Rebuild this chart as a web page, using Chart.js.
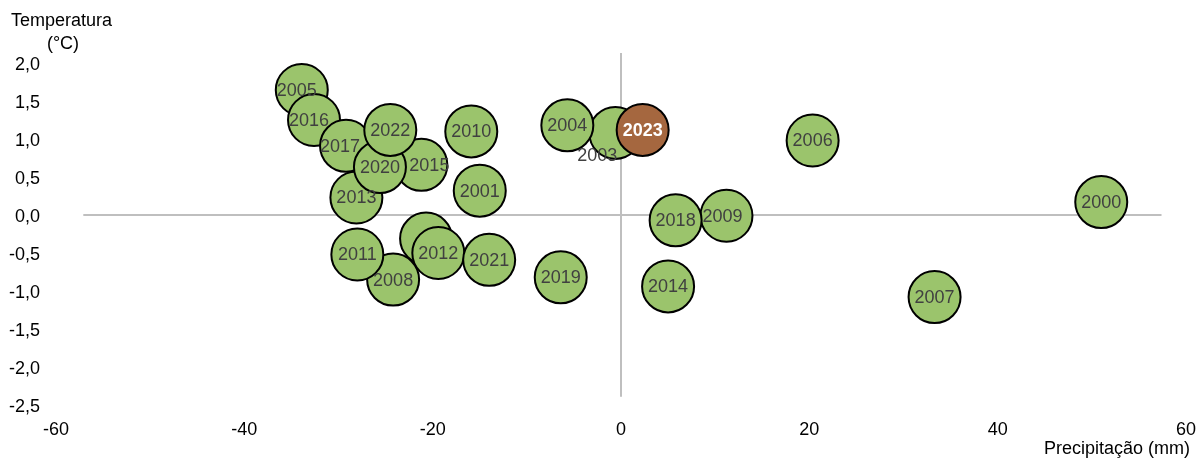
<!DOCTYPE html>
<html>
<head>
<meta charset="utf-8">
<script src="https://cdn.jsdelivr.net/npm/chart.js@4/dist/chart.umd.min.js"></script>
<style>
  html,body{margin:0;padding:0;background:#fff;}
  #wrap{width:1198px;height:459px;}
</style>
</head>
<body>
<div id="wrap"><canvas id="bubbles" width="1198" height="459"></canvas></div>
<script>
// years 2000-2022 (green), 2023 highlighted separately
const years=[2000,2001,2002,2003,2004,2005,2006,2007,2008,2009,2010,2011,2012,2013,2014,2015,2016,2017,2018,2019,2020,2021,2022];
const precip=[51.0,-15.0,-20.7,-0.6,-5.7,-33.9,20.35,33.3,-24.2,11.2,-15.9,-28.0,-19.4,-28.1,5.0,-21.2,-32.6,-29.2,5.8,-6.4,-25.6,-14.0,-24.5];
const temp=[0.17,0.32,-0.31,1.08,1.18,1.645,0.98,-1.08,-0.85,-0.01,1.10,-0.52,-0.50,0.23,-0.94,0.66,1.25,0.91,-0.07,-0.82,0.63,-0.59,1.12];
const curYear=[2023];
const curPrecip=[2.3];
const curTemp=[1.12];
const xTicks=[-60,-40,-20,0,20,40,60];
const yTicks=[-2.5,-2.0,-1.5,-1.0,-0.5,0.0,0.5,1.0,1.5,2.0];

// labels that were moved by hand in the original (px offsets), 2002's label is hidden
const nudge={2003:[-18,22],2015:[8,0],2005:[-5,0],2016:[-5,0],2017:[-6,0],2009:[-4,0]};
const hidden=[2002];

const FONT="'Liberation Sans', Arial, sans-serif";

const pts=(xs,ys)=>xs.map((x,i)=>({x:x,y:ys[i]}));

const zeroLines={
  id:'zeroLines',
  beforeDatasetsDraw(chart){
    const {ctx,scales:{x,y}}=chart;
    ctx.save();
    ctx.strokeStyle='#bfbfbf';
    ctx.lineWidth=2;
    ctx.beginPath();
    ctx.moveTo(x.getPixelForValue(-57.1),y.getPixelForValue(0));
    ctx.lineTo(x.getPixelForValue(57.4),y.getPixelForValue(0));
    ctx.moveTo(x.getPixelForValue(0),y.getPixelForValue(2.13));
    ctx.lineTo(x.getPixelForValue(0),y.getPixelForValue(-2.39));
    ctx.stroke();
    ctx.restore();
  }
};

const pointLabels={
  id:'pointLabels',
  afterDatasetDraw(chart,args){
    const ds=chart.data.datasets[args.index];
    const meta=args.meta;
    const ctx=chart.ctx;
    ctx.save();
    ctx.textAlign='center';
    ctx.textBaseline='middle';
    ctx.font=(ds.labelBold?'bold ':'')+'18px '+FONT;
    ctx.fillStyle=ds.labelColor;
    meta.data.forEach((el,i)=>{
      const yr=ds.years[i];
      if(hidden.includes(yr)) return;
      const d=nudge[yr]||[0,0];
      ctx.fillText(String(yr),el.x+d[0],el.y+d[1]+1);
    });
    ctx.restore();
  }
};

const axisTitles={
  id:'axisTitles',
  afterDraw(chart){
    const ctx=chart.ctx;
    ctx.save();
    ctx.fillStyle='#000';
    ctx.font='18px '+FONT;
    ctx.textBaseline='middle';
    ctx.textAlign='left';
    ctx.fillText('Temperatura',11,21);
    ctx.textAlign='center';
    ctx.fillText('(°C)',63,44);
    ctx.textAlign='right';
    ctx.fillText('Precipitação (mm)',1190,449);
    ctx.restore();
  }
};

new Chart(document.getElementById('bubbles'),{
  type:'scatter',
  data:{
    datasets:[
      {data:pts(precip,temp),years:years,order:2,backgroundColor:'#9bc46c',borderColor:'#000',borderWidth:2,
       pointRadius:26,pointHoverRadius:26,clip:false,labelColor:'#404040'},
      {data:pts(curPrecip,curTemp),years:curYear,order:1,backgroundColor:'#a5673f',borderColor:'#000',borderWidth:2,
       pointRadius:26,pointHoverRadius:26,clip:false,labelColor:'#fff',labelBold:true}
    ]
  },
  options:{
    responsive:false,
    devicePixelRatio:1,
    animation:false,
    events:[],
    layout:{autoPadding:false,padding:{top:63,right:12,left:0,bottom:0}},
    plugins:{legend:{display:false},tooltip:{enabled:false}},
    scales:{
      x:{
        type:'linear',min:-60,max:60,
        afterBuildTicks:s=>{s.ticks=xTicks.map(v=>({value:v}));},
        afterFit:s=>{s.height=54;s.paddingLeft=0;s.paddingRight=0;},
        grid:{display:false,drawTicks:false},
        border:{display:false},
        ticks:{padding:14,color:'#000',font:{family:FONT,size:18},maxRotation:0,autoSkip:false}
      },
      y:{
        type:'linear',min:-2.5,max:2.0,
        afterBuildTicks:s=>{s.ticks=yTicks.map(v=>({value:v}));},
        afterFit:s=>{s.width=56;s.paddingTop=0;s.paddingBottom=0;},
        grid:{display:false,drawTicks:false},
        border:{display:false},
        ticks:{padding:16,labelOffset:2,color:'#000',font:{family:FONT,size:18},autoSkip:false,
          callback:v=>v.toFixed(1).replace('.',',')}
      }
    }
  },
  plugins:[zeroLines,pointLabels,axisTitles]
});
</script>
</body>
</html>
